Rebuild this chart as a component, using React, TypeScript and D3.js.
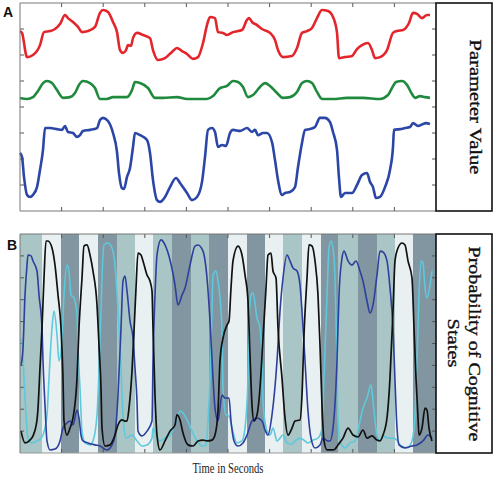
import React from "react";
import * as d3 from "d3";

// ---- Panel A: parameter traces (time in s, value in tick units) ----
const redSeries: [number, number][] = [
  [0, 6.92], [2, 6.85], [7, 5.92], [13, 6.0], [20, 6.38], [24, 6.88], [30, 6.92], [35, 7.0], [40, 7.19], [45, 7.54],
  [48, 7.42], [53, 7.27], [58, 7.08], [62, 6.88], [68, 6.92], [75, 7.08], [80, 7.62], [83, 7.73], [88, 7.65], [93, 7.27],
  [97, 6.88], [100, 6.19], [103, 6.08], [106, 6.19], [108, 6.38], [111, 6.35], [113, 6.65], [117, 6.85], [123, 6.77],
  [130, 6.65], [133, 6.19], [138, 5.81], [145, 5.88], [152, 6.12], [157, 6.27], [162, 6.15], [167, 6.04], [173, 5.85],
  [178, 5.92], [183, 6.46], [187, 7.15], [190, 7.46], [195, 7.42], [198, 6.88], [203, 6.85], [207, 6.77], [213, 6.88],
  [222, 6.96], [227, 7.35], [229, 7.42], [232, 7.27], [237, 7.15], [242, 7.0], [250, 6.85], [255, 6.58], [258, 6.19],
  [263, 5.92], [272, 5.96], [277, 6.27], [282, 6.85], [287, 6.92], [292, 7.04], [297, 7.42], [302, 7.73], [308, 7.69],
  [313, 7.46], [317, 6.85], [319, 5.88], [325, 5.92], [332, 5.96], [337, 6.23], [342, 6.38], [348, 6.46], [352, 6.19],
  [355, 5.88], [360, 5.92], [367, 6.19], [373, 6.85], [377, 6.92], [383, 6.96], [389, 7.23], [393, 7.62], [397, 7.58],
  [402, 7.42], [407, 7.54], [410, 7.54],
];
const greenSeries: [number, number][] = [
  [0, 4.35], [7, 4.31], [13, 4.38], [18, 4.62], [23, 4.92], [27, 5.0], [32, 4.92], [37, 4.65], [43, 4.35], [50, 4.38],
  [55, 4.54], [59, 4.85], [63, 5.0], [70, 4.92], [75, 4.73], [80, 4.31], [87, 4.31], [93, 4.38], [107, 4.38], [112, 4.65],
  [115, 4.96], [120, 4.92], [128, 4.73], [135, 4.35], [143, 4.35], [157, 4.38], [167, 4.31], [187, 4.31], [193, 4.42],
  [200, 4.73], [207, 4.81], [213, 5.0], [218, 4.96], [223, 4.77], [228, 4.38], [233, 4.46], [240, 4.77], [245, 4.92],
  [250, 4.81], [257, 4.54], [263, 4.35], [270, 4.38], [277, 4.58], [282, 4.92], [287, 5.0], [292, 4.92], [297, 4.58],
  [302, 4.31], [313, 4.31], [327, 4.35], [343, 4.35], [360, 4.31], [368, 4.46], [372, 4.73], [376, 4.96], [382, 5.0],
  [387, 4.85], [392, 4.5], [395, 4.35], [400, 4.42], [405, 4.38], [410, 4.35],
];
const blueSeries: [number, number][] = [
  [0, 2.23], [2, 2.08], [4, 1.31], [7, 0.62], [10, 0.54], [13, 0.62], [17, 0.92], [20, 1.58], [23, 2.35], [25, 3.19],
  [30, 3.19], [37, 3.15], [42, 3.12], [45, 3.27], [48, 3.04], [53, 3.0], [57, 2.85], [60, 2.92], [63, 3.08], [70, 3.12],
  [77, 3.19], [80, 3.5], [83, 3.58], [88, 3.46], [93, 3.0], [97, 2.27], [99, 1.46], [102, 0.88], [104, 0.85], [107, 1.31],
  [110, 1.65], [113, 2.46], [115, 3.0], [120, 2.92], [127, 2.73], [130, 2.23], [133, 1.19], [137, 0.42], [140, 0.35],
  [145, 0.54], [150, 0.92], [156, 1.27], [160, 1.08], [167, 0.69], [172, 0.42], [177, 0.54], [182, 1.12], [185, 2.08],
  [188, 3.12], [192, 3.19], [195, 3.04], [198, 2.46], [202, 2.54], [206, 2.5], [210, 3.0], [213, 3.12], [220, 3.08],
  [227, 3.19], [232, 3.04], [235, 3.12], [238, 2.92], [243, 3.0], [247, 3.0], [252, 2.65], [255, 1.96], [258, 1.19],
  [262, 0.62], [265, 0.69], [270, 0.73], [275, 0.92], [278, 1.69], [282, 2.62], [285, 3.12], [290, 3.15], [295, 3.23],
  [300, 3.58], [305, 3.58], [310, 3.42], [313, 3.04], [317, 2.35], [319, 1.27], [321, 0.54], [325, 0.69], [332, 0.69],
  [337, 1.0], [342, 1.38], [347, 1.46], [350, 1.12], [353, 0.92], [356, 0.5], [360, 0.54], [365, 0.92], [370, 1.58],
  [373, 2.46], [374, 3.12], [380, 3.15], [385, 3.19], [390, 3.23], [393, 3.38], [398, 3.27], [403, 3.35], [406, 3.38],
  [410, 3.35],
];

// ---- Panel B: state probabilities ----
const blackProb: [number, number][] = [
  [1, 0.1], [5, 0.046], [10, 0.059], [13, 0.078], [17, 0.151], [18, 0.205], [20, 0.388], [22, 0.571], [24, 0.799],
  [26, 0.968], [28, 0.968], [32, 0.936], [35, 0.858], [38, 0.721], [41, 0.571], [43, 0.342], [44, 0.146], [47, 0.082],
  [50, 0.114], [53, 0.16], [57, 0.342], [59, 0.571], [62, 0.799], [64, 0.945], [67, 0.95], [70, 0.904], [73, 0.831],
  [77, 0.676], [79, 0.493], [81, 0.297], [82, 0.114], [85, 0.032], [90, 0.037], [95, 0.082], [98, 0.128], [102, 0.151],
  [105, 0.146], [107, 0.146], [109, 0.205], [112, 0.374], [114, 0.557], [116, 0.753], [118, 0.913], [121, 0.904],
  [123, 0.877], [127, 0.813], [130, 0.785], [132, 0.74], [133, 0.571], [135, 0.265], [137, 0.082], [140, 0.014],
  [145, 0.055], [150, 0.1], [155, 0.128], [157, 0.174], [160, 0.151], [163, 0.091], [168, 0.037], [173, 0.032],
  [178, 0.055], [183, 0.059], [187, 0.055], [192, 0.059], [195, 0.082], [198, 0.192], [200, 0.42], [203, 0.525],
  [207, 0.584], [209, 0.603], [211, 0.753], [213, 0.877], [218, 0.945], [222, 0.904], [225, 0.813], [228, 0.694],
  [230, 0.447], [232, 0.219], [234, 0.146], [237, 0.174], [240, 0.297], [243, 0.525], [246, 0.753], [248, 0.904],
  [251, 0.913], [253, 0.831], [256, 0.799], [258, 0.571], [262, 0.342], [265, 0.16], [268, 0.082], [272, 0.114],
  [275, 0.146], [280, 0.151], [282, 0.265], [284, 0.539], [287, 0.799], [289, 0.95], [292, 0.945], [295, 0.877],
  [298, 0.721], [300, 0.493], [302, 0.219], [304, 0.055], [307, 0.014], [313, 0.014], [315, 0.018], [318, 0.037],
  [323, 0.068], [328, 0.114], [333, 0.082], [338, 0.073], [343, 0.105], [347, 0.068], [352, 0.078], [357, 0.059],
  [360, 0.055], [363, 0.082], [367, 0.16], [370, 0.342], [373, 0.648], [375, 0.877], [378, 0.936], [382, 0.959],
  [385, 0.95], [388, 0.877], [392, 0.799], [394, 0.571], [396, 0.342], [398, 0.16], [399, 0.082], [402, 0.114],
  [405, 0.205], [407, 0.196], [409, 0.114], [412, 0.055],
];
const navyProb: [number, number][] = [
  [1, 0.402], [3, 0.479], [5, 0.721], [7, 0.858], [8, 0.904], [11, 0.9], [13, 0.877], [17, 0.831], [19, 0.721],
  [22, 0.571], [23, 0.42], [25, 0.219], [27, 0.055], [30, 0.014], [35, 0.018], [40, 0.055], [43, 0.114], [47, 0.137],
  [50, 0.146], [53, 0.128], [57, 0.196], [59, 0.16], [61, 0.082], [63, 0.055], [68, 0.046], [75, 0.037], [80, 0.032],
  [87, 0.014], [92, 0.037], [95, 0.082], [98, 0.265], [101, 0.571], [103, 0.785], [105, 0.808], [107, 0.74], [110, 0.603],
  [113, 0.525], [115, 0.388], [117, 0.237], [118, 0.1], [122, 0.078], [127, 0.1], [132, 0.146], [133, 0.42], [135, 0.721],
  [137, 0.904], [141, 0.973], [145, 0.95], [150, 0.881], [155, 0.767], [158, 0.676], [162, 0.721], [165, 0.753],
  [170, 0.858], [175, 0.945], [178, 0.95], [183, 0.922], [187, 0.799], [190, 0.603], [193, 0.342], [195, 0.205],
  [198, 0.146], [202, 0.265], [205, 0.251], [209, 0.251], [211, 0.146], [214, 0.055], [218, 0.032], [223, 0.046],
  [227, 0.082], [232, 0.146], [237, 0.16], [242, 0.146], [245, 0.105], [248, 0.082], [252, 0.174], [257, 0.42],
  [260, 0.648], [263, 0.799], [267, 0.904], [270, 0.877], [273, 0.845], [277, 0.831], [280, 0.767], [282, 0.648],
  [285, 0.42], [288, 0.192], [291, 0.068], [295, 0.023], [300, 0.037], [303, 0.068], [308, 0.055], [310, 0.055],
  [313, 0.114], [317, 0.42], [319, 0.721], [322, 0.89], [324, 0.922], [328, 0.877], [332, 0.858], [336, 0.877],
  [340, 0.831], [343, 0.785], [347, 0.694], [350, 0.639], [353, 0.676], [357, 0.813], [360, 0.922], [363, 0.918],
  [367, 0.877], [370, 0.753], [373, 0.571], [375, 0.329], [377, 0.114], [379, 0.037], [385, 0.023], [392, 0.032],
  [397, 0.037], [403, 0.055], [408, 0.082], [412, 0.068],
];
const cyanProb: [number, number][] = [
  [1, 0.525], [2, 0.511], [4, 0.342], [6, 0.174], [8, 0.068], [12, 0.046], [17, 0.055], [21, 0.068], [23, 0.082],
  [27, 0.174], [29, 0.342], [32, 0.571], [34, 0.648], [37, 0.539], [39, 0.42], [42, 0.525], [44, 0.721], [47, 0.858],
  [49, 0.831], [51, 0.721], [54, 0.708], [57, 0.63], [58, 0.479], [60, 0.297], [62, 0.1], [65, 0.046], [70, 0.037],
  [73, 0.055], [77, 0.174], [79, 0.374], [81, 0.648], [83, 0.904], [84, 0.95], [88, 0.959], [92, 0.936], [95, 0.858],
  [98, 0.648], [101, 0.388], [103, 0.174], [106, 0.068], [112, 0.082], [117, 0.055], [122, 0.032], [127, 0.037],
  [132, 0.068], [133, 0.114], [137, 0.068], [140, 0.055], [145, 0.068], [150, 0.082], [155, 0.128], [160, 0.192],
  [163, 0.183], [167, 0.151], [172, 0.1], [177, 0.055], [182, 0.032], [186, 0.037], [188, 0.146], [190, 0.342],
  [192, 0.648], [193, 0.813], [196, 0.831], [198, 0.785], [202, 0.571], [203, 0.297], [206, 0.174], [209, 0.169],
  [212, 0.114], [217, 0.046], [222, 0.055], [225, 0.114], [228, 0.342], [229, 0.571], [231, 0.721], [233, 0.731],
  [237, 0.616], [240, 0.571], [242, 0.42], [243, 0.237], [247, 0.1], [250, 0.082], [253, 0.114], [257, 0.055],
  [260, 0.068], [263, 0.082], [267, 0.046], [272, 0.041], [275, 0.055], [280, 0.068], [285, 0.055], [288, 0.046],
  [293, 0.059], [298, 0.068], [302, 0.114], [304, 0.342], [307, 0.721], [309, 0.936], [311, 0.968], [313, 0.936],
  [315, 0.799], [317, 0.42], [318, 0.146], [320, 0.055], [325, 0.023], [330, 0.046], [335, 0.055], [340, 0.146],
  [343, 0.205], [347, 0.251], [351, 0.311], [353, 0.237], [357, 0.082], [360, 0.055], [363, 0.078], [368, 0.068],
  [373, 0.068], [377, 0.059], [380, 0.037], [387, 0.023], [392, 0.055], [395, 0.174], [397, 0.42], [399, 0.721],
  [401, 0.877], [403, 0.868], [405, 0.753], [407, 0.708], [410, 0.767], [412, 0.831],
];

// background state bands
const bandEdges = [0, 22, 41, 59, 78, 97, 115, 133, 152, 171, 189, 208, 227, 245, 263, 282, 301, 318, 338, 357, 375, 393, 416];
const bandStates = ["M", "L", "D", "L", "D", "M", "L", "M", "D", "M", "D", "L", "D", "L", "M", "L", "D", "M", "D", "M", "L", "D"];

const topLabel = "Parameter Value";
const bottomLabel = ["Probability of Cognitive", "States"];
const xLabel = "Time in Seconds";

const W = 496, H = 477;
const L = 20, R = 436, BOXR = 492;
const topY0 = 3, topY1 = 211;
const botY0 = 234, botY1 = 453;

const bandColor: Record<string, string> = { M: "#a9c5c5", L: "#e8f0f1", D: "#8196a0" };

export default function App() {
  const x = d3.scaleLinear().domain([0, 416]).range([L, R]);
  const yTop = d3.scaleLinear().domain([0, 8]).range([topY1, topY0]);
  const yBot = d3.scaleLinear().domain([0, 1]).range([botY1, botY0]);
  const lineTop = d3.line<[number, number]>().x(d => x(d[0])).y(d => yTop(d[1])).curve(d3.curveMonotoneX);
  const lineBot = d3.line<[number, number]>().x(d => x(d[0])).y(d => yBot(d[1])).curve(d3.curveMonotoneX);
  const xTicks = d3.range(1, 10).map(i => i * 41.6);
  const yTopTicks = d3.range(1, 8);
  const yBotTicks = d3.range(1, 10).map(i => i / 10);
  const tk = "#555";
  const labelStyle = { stroke: "#111", strokeWidth: 0.35 };

  return (
    <svg width={W} height={H} style={{ position: "absolute", left: 0, top: 0, background: "#fff" }}>
      {/* Panel A */}
      <rect x={L} y={topY0} width={R - L} height={topY1 - topY0} fill="#fff" />
      {xTicks.map(t => (
        <g key={"ta" + t}>
          <line x1={x(t)} x2={x(t)} y1={topY0} y2={topY0 + 4} stroke={tk} />
          <line x1={x(t)} x2={x(t)} y1={topY1} y2={topY1 - 4} stroke={tk} />
        </g>
      ))}
      {yTopTicks.map(v => (
        <g key={"ya" + v}>
          <line x1={L} x2={L + 4} y1={yTop(v)} y2={yTop(v)} stroke={tk} />
          <line x1={R} x2={R - 4} y1={yTop(v)} y2={yTop(v)} stroke={tk} />
        </g>
      ))}
      <path d={lineTop(redSeries) || ""} fill="none" stroke="#e3262b" strokeWidth={2.6} strokeLinejoin="round" />
      <path d={lineTop(greenSeries) || ""} fill="none" stroke="#1f8a3e" strokeWidth={2.6} strokeLinejoin="round" />
      <path d={lineTop(blueSeries) || ""} fill="none" stroke="#2b46a6" strokeWidth={2.6} strokeLinejoin="round" />
      <line x1={L} x2={R} y1={topY0} y2={topY0} stroke="#777" />
      <line x1={L} x2={R} y1={topY1} y2={topY1} stroke="#777" />
      <line x1={L} x2={L} y1={topY0} y2={topY1} stroke="#777" />
      <rect x={R} y={topY0} width={BOXR - R} height={topY1 - topY0} fill="#fff" stroke="#111" strokeWidth={1.6} />
      <text transform={`translate(470,107) rotate(90)`} textAnchor="middle" fontFamily="Liberation Serif" fontSize={17}
        textLength={135} lengthAdjust="spacingAndGlyphs" fill="#111" style={labelStyle}>{topLabel}</text>
      <text x={3} y={17} fontFamily="Liberation Sans" fontWeight="bold" fontSize={14} fill="#111">A</text>

      {/* Panel B */}
      {bandStates.map((s, i) => (
        <rect key={"b" + i} x={x(bandEdges[i])} y={botY0} width={x(bandEdges[i + 1]) - x(bandEdges[i])}
          height={botY1 - botY0} fill={bandColor[s]} />
      ))}
      {xTicks.map(t => (
        <g key={"tb" + t}>
          <line x1={x(t)} x2={x(t)} y1={botY0} y2={botY0 + 4} stroke={tk} />
          <line x1={x(t)} x2={x(t)} y1={botY1} y2={botY1 - 4} stroke={tk} />
        </g>
      ))}
      {yBotTicks.map(v => (
        <g key={"yb" + v}>
          <line x1={L} x2={L + 4} y1={yBot(v)} y2={yBot(v)} stroke={tk} />
          <line x1={R} x2={R - 4} y1={yBot(v)} y2={yBot(v)} stroke={tk} />
        </g>
      ))}
      <path d={lineBot(cyanProb) || ""} fill="none" stroke="#5ec8dc" strokeWidth={1.6} strokeLinejoin="round" />
      <path d={lineBot(navyProb) || ""} fill="none" stroke="#2d3f9c" strokeWidth={1.6} strokeLinejoin="round" />
      <path d={lineBot(blackProb) || ""} fill="none" stroke="#111" strokeWidth={1.7} strokeLinejoin="round" />
      <line x1={L} x2={R} y1={botY0} y2={botY0} stroke="#777" />
      <line x1={L} x2={R} y1={botY1} y2={botY1} stroke="#999" />
      <line x1={L} x2={L} y1={botY0} y2={botY1} stroke="#777" />
      <rect x={R} y={botY0} width={BOXR - R} height={botY1 - botY0} fill="#fff" stroke="#111" strokeWidth={1.6} />
      <text transform={`translate(469,344) rotate(90)`} textAnchor="middle" fontFamily="Liberation Serif" fontSize={16}
        textLength={195} lengthAdjust="spacingAndGlyphs" fill="#111" style={labelStyle}>{bottomLabel[0]}</text>
      <text transform={`translate(448,343) rotate(90)`} textAnchor="middle" fontFamily="Liberation Serif" fontSize={16}
        textLength={49} lengthAdjust="spacingAndGlyphs" fill="#111" style={labelStyle}>{bottomLabel[1]}</text>
      <text x={7} y={250} fontFamily="Liberation Sans" fontWeight="bold" fontSize={14} fill="#111">B</text>
      <text x={228} y={473} textAnchor="middle" fontFamily="Liberation Serif" fontSize={15}
        textLength={71} lengthAdjust="spacingAndGlyphs" fill="#222">{xLabel}</text>
    </svg>
  );
}
